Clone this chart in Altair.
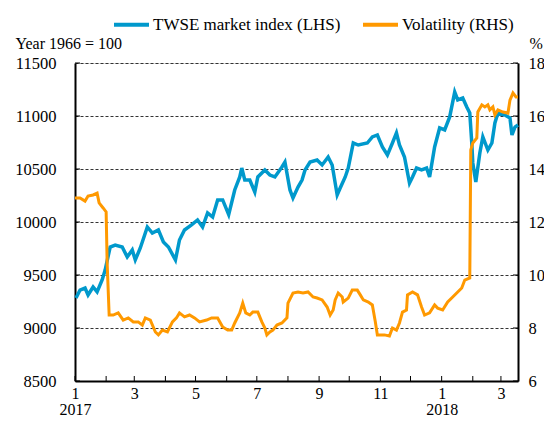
import altair as alt
import pandas as pd

SERIES = ["TWSE market index (LHS)", "Volatility (RHS)"]
COLORS = ["#0099CC", "#FF9900"]

TWSE_DATES = [
    "2017-01-02", "2017-01-06", "2017-01-11", "2017-01-14", "2017-01-19", "2017-01-23",
    "2017-01-28", "2017-01-31", "2017-02-05", "2017-02-10", "2017-02-17", "2017-02-22",
    "2017-02-27", "2017-03-02", "2017-03-07", "2017-03-14", "2017-03-19", "2017-03-25",
    "2017-03-30", "2017-04-04", "2017-04-11", "2017-04-15", "2017-04-20", "2017-04-27",
    "2017-05-03", "2017-05-08", "2017-05-13", "2017-05-18", "2017-05-23", "2017-05-28",
    "2017-06-03", "2017-06-09", "2017-06-14", "2017-06-16", "2017-06-19", "2017-06-24",
    "2017-06-29", "2017-07-02", "2017-07-09", "2017-07-14", "2017-07-19", "2017-07-26",
    "2017-07-29", "2017-08-03", "2017-08-06", "2017-08-11", "2017-08-15", "2017-08-18",
    "2017-08-23", "2017-08-30", "2017-09-04", "2017-09-10", "2017-09-14", "2017-09-19",
    "2017-09-22", "2017-09-27", "2017-09-30", "2017-10-05", "2017-10-10", "2017-10-19",
    "2017-10-24", "2017-10-29", "2017-11-03", "2017-11-08", "2017-11-13", "2017-11-17",
    "2017-11-20", "2017-11-25", "2017-11-30", "2017-12-03", "2017-12-07", "2017-12-12",
    "2017-12-17", "2017-12-20", "2017-12-25", "2017-12-30", "2018-01-04", "2018-01-09",
    "2018-01-14", "2018-01-17", "2018-01-22", "2018-01-26", "2018-01-29", "2018-01-31",
    "2018-02-01", "2018-02-04", "2018-02-08", "2018-02-11", "2018-02-16", "2018-02-20",
    "2018-02-23", "2018-02-26", "2018-03-05", "2018-03-10", "2018-03-12", "2018-03-15",
    "2018-03-18",
]
TWSE_VALUES = [
    9283, 9358, 9377, 9311, 9387, 9340,
    9453, 9547, 9764, 9783, 9764, 9670,
    9736, 9642, 9755, 9953, 9896, 9925,
    9811, 9764, 9642, 9830, 9925, 9972,
    10019, 9953, 10085, 10047, 10208, 10208,
    10070, 10302, 10425, 10509, 10396, 10396,
    10283, 10425, 10491, 10443, 10425, 10519,
    10566, 10302, 10226, 10330, 10396, 10491,
    10566, 10585, 10538, 10613, 10538, 10255,
    10321, 10425, 10509, 10745, 10726, 10745,
    10802, 10821, 10708, 10632, 10745, 10840,
    10726, 10613, 10368, 10425, 10509, 10491,
    10509, 10425, 10708, 10887, 10868, 10991,
    11226, 11151, 11170, 11085, 11028, 10745,
    10557, 10377, 10651, 10802, 10679, 10745,
    10934, 11028, 11009, 10981, 10821, 10896,
    10915,
]

VOL_DATES = [
    "2017-01-01", "2017-01-06", "2017-01-11", "2017-01-14", "2017-01-19", "2017-01-23",
    "2017-01-25", "2017-01-29", "2017-02-01", "2017-02-02", "2017-02-04", "2017-02-08",
    "2017-02-13", "2017-02-18", "2017-02-23", "2017-02-28", "2017-03-05", "2017-03-09",
    "2017-03-12", "2017-03-17", "2017-03-22", "2017-03-25", "2017-03-29", "2017-04-03",
    "2017-04-08", "2017-04-12", "2017-04-15", "2017-04-20", "2017-04-25", "2017-04-30",
    "2017-05-05", "2017-05-12", "2017-05-17", "2017-05-23", "2017-05-28", "2017-06-02",
    "2017-06-06", "2017-06-09", "2017-06-14", "2017-06-17", "2017-06-20", "2017-06-24",
    "2017-06-27", "2017-07-02", "2017-07-06", "2017-07-09", "2017-07-11", "2017-07-14",
    "2017-07-17", "2017-07-21", "2017-07-26", "2017-07-31", "2017-08-01", "2017-08-06",
    "2017-08-11", "2017-08-16", "2017-08-21", "2017-08-26", "2017-08-30", "2017-09-04",
    "2017-09-09", "2017-09-12", "2017-09-15", "2017-09-17", "2017-09-20", "2017-09-24",
    "2017-09-25", "2017-09-30", "2017-10-04", "2017-10-09", "2017-10-12", "2017-10-15",
    "2017-10-20", "2017-10-24", "2017-10-27", "2017-10-29", "2017-10-31", "2017-11-05",
    "2017-11-10", "2017-11-13", "2017-11-17", "2017-11-20", "2017-11-23", "2017-11-27",
    "2017-11-28", "2017-12-03", "2017-12-08", "2017-12-12", "2017-12-15", "2017-12-20",
    "2017-12-25", "2017-12-28", "2018-01-02", "2018-01-07", "2018-01-12", "2018-01-17",
    "2018-01-21", "2018-01-24", "2018-01-29", "2018-01-30", "2018-02-01", "2018-02-05",
    "2018-02-06", "2018-02-10", "2018-02-13", "2018-02-16", "2018-02-18", "2018-02-21",
    "2018-02-23", "2018-02-26", "2018-03-03", "2018-03-08", "2018-03-10", "2018-03-13",
    "2018-03-16", "2018-03-18",
]
VOL_VALUES = [
    12.91, 12.91, 12.79, 12.98, 13.02, 13.09,
    12.72, 12.53, 12.38, 10.45, 8.49, 8.49,
    8.57, 8.30, 8.38, 8.23, 8.23, 8.11,
    8.38, 8.30, 7.85, 7.74, 7.92, 7.85,
    8.23, 8.38, 8.57, 8.42, 8.49, 8.38,
    8.23, 8.30, 8.38, 8.38, 8.04, 7.92,
    7.92, 8.19, 8.57, 8.94, 8.57, 8.49,
    8.60, 8.60, 8.23, 8.00, 7.74, 7.85,
    7.92, 8.11, 8.19, 8.38, 8.94, 9.32,
    9.36, 9.32, 9.36, 9.17, 9.13, 9.06,
    8.79, 8.49, 8.68, 9.06, 9.32, 9.17,
    8.98, 9.13, 9.43, 9.43, 9.25, 9.06,
    8.98, 8.87, 8.23, 7.74, 7.74, 7.74,
    7.70, 8.00, 7.92, 8.19, 8.60, 8.68,
    9.25, 9.36, 9.25, 8.79, 8.49, 8.57,
    8.87, 8.75, 8.68, 8.98, 9.17, 9.36,
    9.51, 9.81, 9.89, 14.72, 14.98, 15.17,
    16.15, 16.42, 16.34, 16.42, 16.23, 16.34,
    16.04, 16.23, 16.15, 16.11, 16.60, 16.87,
    16.72, 16.72,
]

LEFT_TICKS = [8500, 9000, 9500, 10000, 10500, 11000, 11500]
RIGHT_TICKS = [6, 8, 10, 12, 14, 16, 18]
MONTH_TICKS = [
    "2017-01-01", "2017-02-01", "2017-03-01", "2017-04-01", "2017-05-01",
    "2017-06-01", "2017-07-01", "2017-08-01", "2017-09-01", "2017-10-01",
    "2017-11-01", "2017-12-01", "2018-01-01", "2018-02-01", "2018-03-01",
]
X_DOMAIN = ["2017-01-01", "2018-03-18"]

FONT = "Liberation Serif"
TICK_FS = 16.5
W, H = 443, 318

twse = pd.DataFrame({"date": TWSE_DATES, "value": TWSE_VALUES, "series": SERIES[0]})
vol = pd.DataFrame({"date": VOL_DATES, "value": VOL_VALUES, "series": SERIES[1]})
months = pd.DataFrame({"date": MONTH_TICKS})
lticks = pd.DataFrame({"v": LEFT_TICKS})


def dt(s):
    y, m, d = (int(p) for p in s.split("-"))
    return alt.DateTime(year=y, month=m, date=d, utc=True)


xscale = alt.Scale(type="utc", domain=[dt(X_DOMAIN[0]), dt(X_DOMAIN[1])])
color_scale = alt.Scale(domain=SERIES, range=COLORS)

label_expr = (
    "utcmonth(datum.value) % 2 == 0 ? "
    "(utcmonth(datum.value) == 0 ? [toString(utcmonth(datum.value) + 1), utcFormat(datum.value, '%Y')]"
    " : toString(utcmonth(datum.value) + 1)) : ''"
)

x_axis = alt.Axis(
    values=[dt(s) for s in MONTH_TICKS],
    labelExpr=label_expr,
    ticks=False,
    grid=False,
    domain=True,
    domainColor="black",
    domainWidth=2,
    labelPadding=4,
    labelFontSize=16,
    labelLineHeight=16,
    labelFont=FONT,
    labelColor="black",
    labelFlush=False,
    labelOverlap=False,
    title=None,
)

legend = alt.Legend(
    title=None,
    orient="none",
    legendX=37,
    legendY=-58,
    direction="horizontal",
    symbolType="stroke",
    symbolSize=1225,
    symbolStrokeWidth=4,
    labelFont=FONT,
    labelFontSize=17,
    labelColor="black",
    labelOffset=2,
    labelLimit=400,
    columnPadding=14,
)

blue = alt.Chart(twse).mark_line(strokeWidth=3.5).encode(
    x=alt.X("date:T", scale=xscale, axis=x_axis),
    y=alt.Y(
        "value:Q",
        scale=alt.Scale(domain=[8500, 11500], nice=False, zero=False),
        axis=alt.Axis(
            values=LEFT_TICKS,
            format="d",
            orient="left",
            ticks=False,
            grid=True,
            gridDash=[3, 2],
            gridColor="#333333",
            gridWidth=1,
            domainColor="black",
            domainWidth=2,
            labelPadding=19,
            labelFontSize=TICK_FS,
            labelFont=FONT,
            labelColor="black",
            title="Year 1966 = 100",
            titleAngle=0,
            titleAlign="left",
            titleBaseline="alphabetic",
            titleX=-60,
            titleY=-15,
            titleFont=FONT,
            titleFontSize=16,
            titleFontWeight="normal",
            titleColor="black",
        ),
    ),
    color=alt.Color("series:N", scale=color_scale, legend=legend),
)

orange = alt.Chart(vol).mark_line(strokeWidth=3).encode(
    x=alt.X("date:T", scale=xscale, axis=x_axis),
    y=alt.Y(
        "value:Q",
        scale=alt.Scale(domain=[6, 18], nice=False, zero=False),
        axis=alt.Axis(
            values=RIGHT_TICKS,
            format="d",
            orient="right",
            ticks=False,
            grid=False,
            domainColor="black",
            domainWidth=2,
            labelPadding=10,
            labelFontSize=TICK_FS,
            labelFont=FONT,
            labelColor="black",
            title="%",
            titleAngle=0,
            titleAlign="left",
            titleBaseline="alphabetic",
            titleX=11,
            titleY=-15,
            titleFont=FONT,
            titleFontSize=16,
            titleFontWeight="normal",
            titleColor="black",
        ),
    ),
    color=alt.Color("series:N", scale=color_scale, legend=legend),
)

xticks = alt.Chart(months).mark_rule(color="black", strokeWidth=1).encode(
    x=alt.X("date:T", scale=xscale, axis=x_axis),
    y=alt.value(H),
    y2=alt.value(H - 5),
)

lt = alt.Chart(lticks).mark_rule(color="black", strokeWidth=1).encode(
    y=alt.Y("v:Q", scale=alt.Scale(domain=[8500, 11500], nice=False, zero=False), axis=None),
    x=alt.value(0),
    x2=alt.value(5),
)
rt = alt.Chart(lticks).mark_rule(color="black", strokeWidth=1).encode(
    y=alt.Y("v:Q", scale=alt.Scale(domain=[8500, 11500], nice=False, zero=False), axis=None),
    x=alt.value(W - 5),
    x2=alt.value(W),
)

chart = (
    alt.layer(blue, orange, xticks, lt, rt)
    .resolve_scale(y="independent")
    .properties(
        width=W,
        height=H,
        padding={"left": 67, "top": 55, "right": 26, "bottom": 36},
        autosize=alt.AutoSizeParams(type="none"),
    )
    .configure_view(stroke="black", strokeWidth=1.5)
    .configure_axis(labelFont=FONT, titleFont=FONT, labelFontSize=TICK_FS, labelColor="black")
    .configure(font=FONT)
)

chart.save("out.html", embed_options={"renderer": "svg", "actions": False})
